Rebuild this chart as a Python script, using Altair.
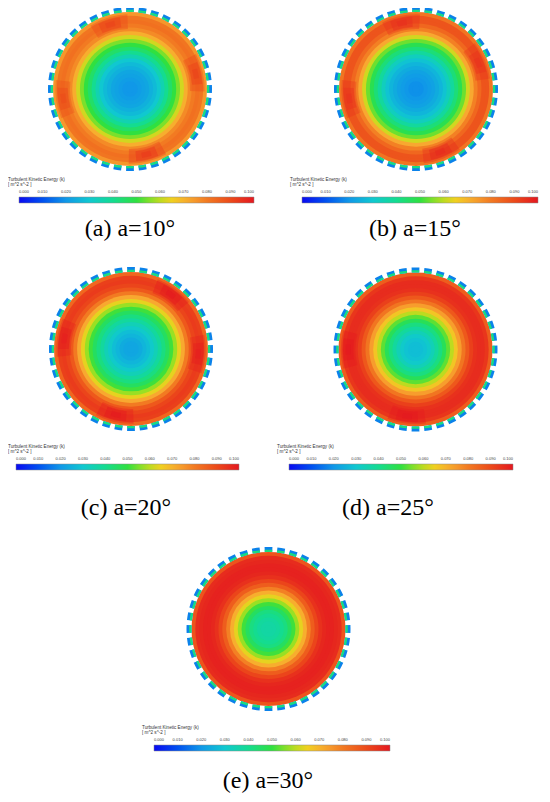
import math
import altair as alt
import pandas as pd

# ---------------- data ----------------
k_ticks = [0.000, 0.010, 0.020, 0.030, 0.040, 0.050, 0.060, 0.070, 0.080, 0.090, 0.100]
bar_title = "Turbulent Kinetic Energy (k)\n[ m^2 s^-2 ]"

# outer edge of each concentric band (fraction of the disk radius)
ring_outer = [0.05, 0.10, 0.15, 0.20, 0.25, 0.30, 0.35, 0.40, 0.45, 0.50,
              0.55, 0.60, 0.65, 0.70, 0.75, 0.80, 0.85, 0.90, 0.95, 1.00]

# k in each band, centre -> wall
k_a = [.020, .020, .021, .022, .023, .025, .027, .030, .035, .040,
       .045, .050, .055, .062, .071, .077, .080, .082, .081, .075]
k_b = [.019, .019, .020, .021, .022, .024, .026, .029, .033, .038,
       .043, .048, .054, .062, .072, .079, .084, .088, .088, .081]
k_c = [.023, .023, .024, .026, .028, .031, .034, .038, .042, .046,
       .051, .057, .064, .072, .080, .087, .091, .093, .092, .084]
k_d = [.028, .028, .029, .031, .034, .038, .042, .047, .053, .060,
       .067, .074, .081, .087, .092, .095, .096, .096, .094, .086]
k_e = [.037, .037, .038, .040, .042, .046, .051, .057, .064, .071,
       .079, .086, .091, .095, .097, .098, .098, .097, .096, .088]

# local high-k spots near the wall: angle (deg, clockwise from top) and k
hot_a_deg = [343, 77, 166, 262]
hot_a_k = [.092, .092, .094, .090]
hot_b_deg = [348, 67, 159, 262]
hot_b_k = [.096, .095, .097, .095]
hot_c_deg = [36, 94, 193, 279]
hot_c_k = [.100, .099, .100, .099]
hot_d_deg = [187, 270]
hot_d_k = [.100, .100]
hot_e_deg = []
hot_e_k = []

# wall teeth: count and k of inner / outer part
n_teeth = 40
tooth_k_inner = 0.042
tooth_k_outer = 0.017

captions = ["(a) a=10°", "(b) a=15°", "(c) a=20°", "(d) a=25°", "(e) a=30°"]
profiles = [k_a, k_b, k_c, k_d, k_e]
hot_deg = [hot_a_deg, hot_b_deg, hot_c_deg, hot_d_deg, hot_e_deg]
hot_k = [hot_a_k, hot_b_k, hot_c_k, hot_d_k, hot_e_k]

# ---------------- styling / layout ----------------
STOP_K = [0.000, 0.010, 0.020, 0.030, 0.040, 0.050, 0.058, 0.065, 0.072, 0.080, 0.090, 0.100]
STOP_C = ["#0a0af0", "#0050f0", "#1098e8", "#10c8d0", "#14dc90", "#30e040",
          "#a8e020", "#f0d020", "#f8a830", "#f27a22", "#ec4a1a", "#e41820"]

R_FILL = 77
LAYOUT = [
    dict(cx=122, cy=81, bx=11, by=189, bl=235, tx=122, ty=228),
    dict(cx=408, cy=81, bx=294, by=189, bl=236, tx=407, ty=228),
    dict(cx=123, cy=341, bx=8, by=456, bl=223, tx=118, ty=507),
    dict(cx=407.5, cy=341.5, bx=281, by=456, bl=224, tx=380, ty=507),
    dict(cx=260.5, cy=621, bx=146, by=737, bl=236, tx=260, ty=780),
]
HOT_SHAPES = [  # (half angle deg, r0, r1, opacity)
    (15, 0.78, 0.97, 0.35),
    (9, 0.81, 0.94, 0.45),
    (4, 0.84, 0.91, 0.50),
]
TOOTH_HALF_DEG = 2.75
TOOTH_R = (1.0, 1.03, 1.065)


def kscale():
    return alt.Scale(domain=STOP_K, range=STOP_C, interpolate="rgb", nice=False)


def rscale():
    return alt.Scale(type="linear", domain=[0, 1], range=[0, R_FILL], nice=False)


layers = []
for i, lay in enumerate(LAYOUT):
    disks = pd.DataFrame({"r": ring_outer[::-1], "k": profiles[i][::-1]})
    legend = alt.Legend(
        orient="none", legendX=lay["bx"], legendY=lay["by"],
        direction="horizontal", gradientLength=lay["bl"], gradientThickness=6,
        gradientStrokeColor="#8a8a8a", gradientStrokeWidth=0.5,
        title=None,
        values=k_ticks, format=".3f", labelFont="Liberation Sans",
        labelFontSize=4, labelColor="#444444", labelAlign="center",
        labelOffset={"expr": "-13.5"}, labelOverlap=False,
    )
    layers.append(
        alt.Chart(disks).mark_arc(theta=0, theta2=2 * math.pi).encode(
            x=alt.value(lay["cx"]), y=alt.value(lay["cy"]),
            radius=alt.Radius("r:Q", scale=rscale(), stack=None),
            color=alt.Color("k:Q", scale=kscale(), legend=legend),
        )
    )
    if hot_deg[i]:
        for half, r0, r1, op in HOT_SHAPES:
            hot = pd.DataFrame({
                "t0": [math.radians(a - half) for a in hot_deg[i]],
                "t1": [math.radians(a + half) for a in hot_deg[i]],
                "r0": [r0] * len(hot_deg[i]),
                "r1": [r1] * len(hot_deg[i]),
                "k": hot_k[i],
            })
            layers.append(
                alt.Chart(hot).mark_arc(opacity=op).encode(
                    x=alt.value(lay["cx"]), y=alt.value(lay["cy"]),
                    theta=alt.Theta("t0:Q", scale=None, stack=None),
                    theta2=alt.Theta2("t1:Q"),
                    radius=alt.Radius("r1:Q", scale=rscale(), stack=None),
                    radius2=alt.Radius2("r0:Q"),
                    color=alt.Color("k:Q", scale=kscale(), legend=None),
                )
            )
    rows = []
    for j in range(n_teeth):
        c = 360.0 * j / n_teeth
        t0 = math.radians(c - TOOTH_HALF_DEG)
        t1 = math.radians(c + TOOTH_HALF_DEG)
        rows.append(dict(t0=t0, t1=t1, r0=TOOTH_R[0], r1=TOOTH_R[2], k=tooth_k_outer))
        rows.append(dict(t0=t0, t1=t1, r0=TOOTH_R[0], r1=TOOTH_R[1], k=tooth_k_inner))
    teeth = pd.DataFrame(rows)
    layers.append(
        alt.Chart(teeth).mark_arc().encode(
            x=alt.value(lay["cx"]), y=alt.value(lay["cy"]),
            theta=alt.Theta("t0:Q", scale=None, stack=None),
            theta2=alt.Theta2("t1:Q"),
            radius=alt.Radius("r1:Q", scale=rscale(), stack=None),
            radius2=alt.Radius2("r0:Q"),
            color=alt.Color("k:Q", scale=kscale(), legend=None),
        )
    )
    # colour-bar title (two lines)
    layers.append(
        alt.Chart(pd.DataFrame({"t": [bar_title]})).mark_text(
            font="Liberation Sans", fontSize=4.6, align="left",
            baseline="alphabetic", color="#333333", lineBreak="\n", lineHeight=4.5,
        ).encode(text="t:N", x=alt.value(max(lay["bx"] - 12, 0)),
                 y=alt.value(lay["by"] - 16))
    )
    # caption
    layers.append(
        alt.Chart(pd.DataFrame({"t": [captions[i]]})).mark_text(
            font="Liberation Serif", fontSize=24, align="center",
            baseline="alphabetic", color="#000000",
        ).encode(text="t:N", x=alt.value(lay["tx"]), y=alt.value(lay["ty"]))
    )

chart = (
    alt.layer(*layers)
    .resolve_scale(color="independent")
    .properties(width=534, height=786, padding=0,
                autosize=alt.AutoSizeParams(type="none"))
    .configure_view(stroke=None)
)

chart.save("out.html", embed_options={"renderer": "svg", "actions": False})
